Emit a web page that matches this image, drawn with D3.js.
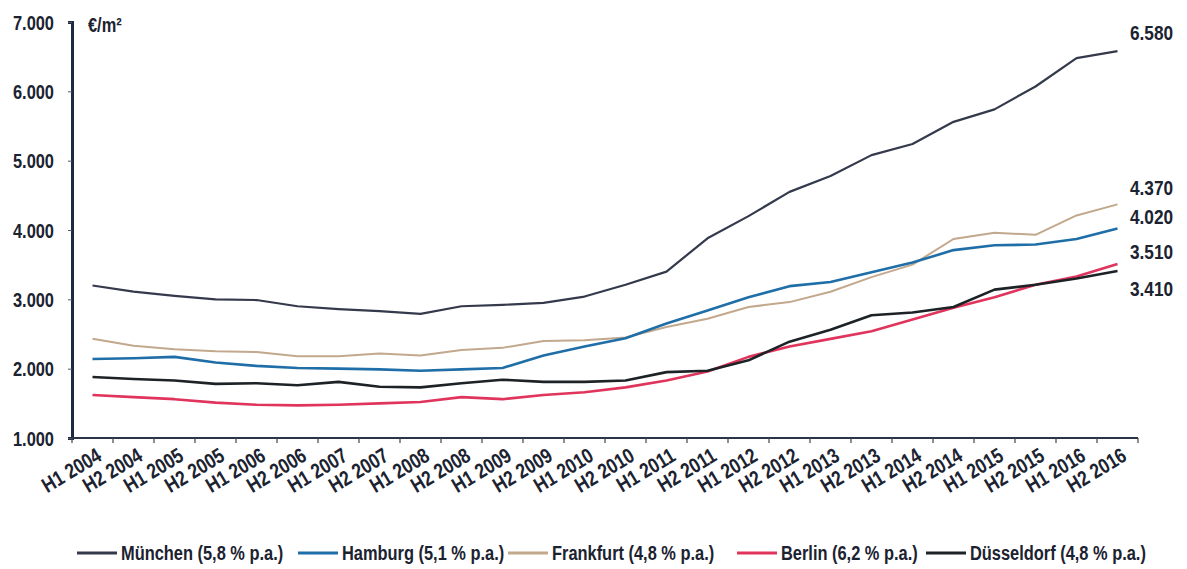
<!DOCTYPE html>
<html>
<head>
<meta charset="utf-8">
<script src="https://cdn.jsdelivr.net/npm/d3@7/dist/d3.min.js"></script>
<style>
  html, body { margin: 0; padding: 0; background: #ffffff; }
  svg { display: block; }
  text { font-family: "Liberation Sans", Arial, sans-serif; font-weight: bold; fill: #1b2230; }
</style>
</head>
<body>
<svg id="chart" width="1187" height="569"></svg>
<script>
// ---- data ----
const categories = [
  "H1 2004","H2 2004","H1 2005","H2 2005","H1 2006","H2 2006","H1 2007","H2 2007",
  "H1 2008","H2 2008","H1 2009","H2 2009","H1 2010","H2 2010","H1 2011","H2 2011",
  "H1 2012","H2 2012","H1 2013","H2 2013","H1 2014","H2 2014","H1 2015","H2 2015",
  "H1 2016","H2 2016"
];
const muenchen   = [3200,3110,3050,3000,2990,2900,2860,2830,2790,2900,2920,2950,3040,3210,3400,3880,4200,4550,4780,5080,5240,5560,5740,6070,6480,6580];
const hamburg    = [2140,2150,2170,2090,2040,2010,2000,1990,1970,1990,2010,2190,2320,2440,2650,2840,3030,3190,3250,3390,3530,3710,3780,3790,3870,4020];
const frankfurt  = [2430,2330,2280,2250,2240,2180,2180,2220,2190,2270,2300,2400,2410,2450,2600,2720,2890,2960,3110,3320,3500,3870,3960,3930,4210,4370];
const berlin     = [1620,1590,1560,1510,1480,1470,1480,1500,1520,1590,1560,1620,1660,1730,1830,1960,2170,2320,2430,2540,2710,2880,3030,3210,3330,3510];
const duesseldorf= [1880,1850,1830,1780,1790,1760,1810,1740,1730,1790,1840,1810,1810,1830,1950,1970,2120,2390,2560,2770,2810,2890,3140,3210,3300,3410];
const seriesNames = ["München","Hamburg","Frankfurt","Berlin","Düsseldorf"];
const seriesGrowth = ["5,8 % p.a.","5,1 % p.a.","4,8 % p.a.","6,2 % p.a.","4,8 % p.a."];
const yTicks = [1000,2000,3000,4000,5000,6000,7000];
const endLabels = ["6.580","4.370","4.020","3.510","3.410"];
const endLabelValues = [6580,4370,4020,3510,3410];
const unitLabel = "€/m²";

// ---- styles / layout ----
const colors = ["#343a4c","#1f6ea8","#c2a88c","#e0345c","#1c2226"];
const widths = [2.2,2.6,2.0,2.6,2.6];
const endLabelDy = [-19,-17,-12,-13,18];
const CONDENSE = 0.82;

const svg = d3.select("#chart");
const x = d3.scaleBand().domain(categories).range([72,1138]);
const y = d3.scaleLinear().domain([1000,7000]).range([438,22]);
const de = d3.formatLocale({decimal:",", thousands:".", grouping:[3], currency:["","€"]});
const fmt = de.format(",d");

const allSeries = [muenchen, hamburg, frankfurt, berlin, duesseldorf];

const line = d3.line()
  .x((d,i) => x(categories[i]) + x.bandwidth()/2)
  .y(d => y(d));

const drawOrder = [0,2,1,3,4];
drawOrder.forEach(si => {
  svg.append("path")
    .datum(allSeries[si])
    .attr("fill","none")
    .attr("stroke",colors[si])
    .attr("stroke-width",widths[si])
    .attr("stroke-linejoin","round")
    .attr("d",line);
});

// y axis
const yAxis = d3.axisLeft(y).tickValues(yTicks).tickFormat(fmt).tickSize(4).tickPadding(14);
const gy = svg.append("g").attr("transform","translate(72,0)").call(yAxis);
gy.select(".domain").attr("stroke","#1d2a44").attr("stroke-width",3);
gy.selectAll(".tick line").attr("stroke","#555");
gy.selectAll(".tick text").style("font-size","20px").style("font-family",null).attr("dy","0.36em");

// x axis
const gx = svg.append("g").attr("transform","translate(0,438)");
gx.append("line").attr("x1",72).attr("x2",1138).attr("y1",0).attr("y2",0)
  .attr("stroke","#2a3446").attr("stroke-width",2);
const boundaries = categories.map(c => x(c)).concat([x(categories[categories.length-1]) + x.bandwidth()]);
gx.selectAll("line.tk").data(boundaries).enter().append("line")
  .attr("class","tk")
  .attr("x1",d=>d).attr("x2",d=>d).attr("y1",0).attr("y2",5)
  .attr("stroke","#444").attr("stroke-width",1.2);
gx.selectAll("text.xl").data(categories).enter().append("text")
  .attr("class","xl")
  .attr("text-anchor","end")
  .attr("transform", d => `translate(${x(d) + x.bandwidth()/2 + 3},${9}) rotate(-31)`)
  .attr("dy","0.7em")
  .style("font-size","21px")
  .text(d => d);

// unit label
svg.append("text").attr("x",88).attr("y",32).style("font-size","20px").text(unitLabel);

// end labels
svg.selectAll("text.end").data(endLabels).enter().append("text")
  .attr("class","end")
  .attr("x",1130)
  .attr("y",(d,i) => y(endLabelValues[i]) + endLabelDy[i])
  .attr("dy","0.36em")
  .style("font-size","21px")
  .text(d => d);

// legend
const legendX = [77,298,508,737,926];
const lg = svg.append("g").attr("transform","translate(0,553)");
seriesNames.forEach((n,i) => {
  lg.append("line").attr("x1",legendX[i]).attr("x2",legendX[i]+40).attr("y1",0).attr("y2",0)
    .attr("stroke",colors[i]).attr("stroke-width",3);
  lg.append("text").attr("x",legendX[i]+44).attr("y",0).attr("dy","0.36em")
    .style("font-size","20px").text(`${n} (${seriesGrowth[i]})`);
});

// condense all text horizontally (narrow look)
svg.selectAll("text").each(function() {
  const w = this.getComputedTextLength();
  d3.select(this).attr("textLength", w * CONDENSE).attr("lengthAdjust","spacingAndGlyphs");
});
</script>
</body>
</html>
